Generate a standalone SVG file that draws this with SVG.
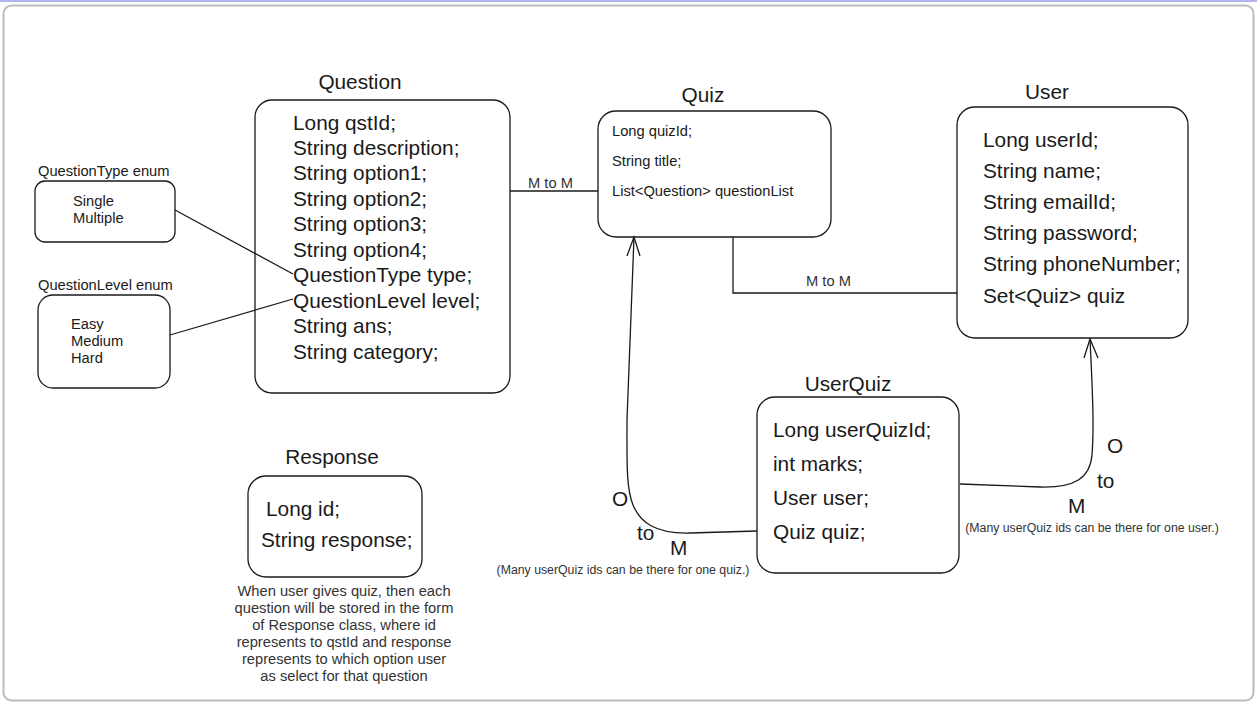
<svg xmlns="http://www.w3.org/2000/svg" width="1257" height="705" viewBox="0 0 1257 705">
<defs>
<style>
.box{fill:#fff;stroke:#1a1a1a;stroke-width:1.3}
.big{font-family:"Liberation Sans",Arial,sans-serif;font-size:20.8px;fill:#1a1a1a}
.mid{font-family:"Liberation Sans",Arial,sans-serif;font-size:14.7px;fill:#1a1a1a}
.lbl{font-family:"Liberation Sans",Arial,sans-serif;font-size:14.7px;fill:#333}
.sm{font-family:"Liberation Sans",Arial,sans-serif;font-size:12.3px;fill:#333}
.ttl{font-family:"Liberation Sans",Arial,sans-serif;font-size:20.8px;fill:#1a1a1a;text-anchor:middle}
.ln{fill:none;stroke:#1a1a1a;stroke-width:1.3}
</style>
</defs>
<rect x="0" y="0" width="1257" height="705" fill="#fff"/>
<line x1="0" y1="1" x2="1257" y2="1" stroke="#b4b4f0" stroke-width="2"/>
<rect x="3.5" y="5.5" width="1250" height="695" rx="8" fill="none" stroke="#bbb" stroke-width="2"/>

<g id="questionType">
<text class="mid" x="38" y="176">QuestionType enum</text>
<rect class="box" x="35" y="181" width="140" height="61" rx="10"/>
<text class="mid" x="73" y="206">Single</text>
<text class="mid" x="73" y="223">Multiple</text>
</g>

<g id="questionLevel">
<text class="mid" x="38" y="290">QuestionLevel enum</text>
<rect class="box" x="38" y="295" width="132" height="93" rx="15"/>
<text class="mid" x="71" y="329">Easy</text>
<text class="mid" x="71" y="346">Medium</text>
<text class="mid" x="71" y="363">Hard</text>
</g>

<g id="question">
<text class="ttl" x="360" y="89">Question</text>
<rect class="box" x="255" y="100" width="255" height="293" rx="17"/>
<text class="big" x="293" y="130">Long qstId;</text>
<text class="big" x="293" y="155">String description;</text>
<text class="big" x="293" y="180">String option1;</text>
<text class="big" x="293" y="206">String option2;</text>
<text class="big" x="293" y="231">String option3;</text>
<text class="big" x="293" y="257">String option4;</text>
<text class="big" x="293" y="282">QuestionType type;</text>
<text class="big" x="293" y="308">QuestionLevel level;</text>
<text class="big" x="293" y="333">String ans;</text>
<text class="big" x="293" y="359">String category;</text>
</g>

<g id="quiz">
<text class="ttl" x="703" y="102">Quiz</text>
<rect class="box" x="598" y="111" width="233" height="126" rx="18"/>
<text class="mid" x="612" y="136">Long quizId;</text>
<text class="mid" x="612" y="166">String title;</text>
<text class="mid" x="612" y="196">List&lt;Question&gt; questionList</text>
</g>

<g id="user">
<text class="ttl" x="1047" y="99">User</text>
<rect class="box" x="957" y="107" width="231" height="231" rx="18"/>
<text class="big" x="983" y="147">Long userId;</text>
<text class="big" x="983" y="178">String name;</text>
<text class="big" x="983" y="209">String emailId;</text>
<text class="big" x="983" y="240">String password;</text>
<text class="big" x="983" y="271">String phoneNumber;</text>
<text class="big" x="983" y="303">Set&lt;Quiz&gt; quiz</text>
</g>

<g id="userQuiz">
<text class="ttl" x="848" y="391">UserQuiz</text>
<rect class="box" x="757" y="397" width="202" height="176" rx="18"/>
<text class="big" x="773" y="437">Long userQuizId;</text>
<text class="big" x="773" y="471">int marks;</text>
<text class="big" x="773" y="505">User user;</text>
<text class="big" x="773" y="539">Quiz quiz;</text>
</g>

<g id="response">
<text class="ttl" x="332" y="464">Response</text>
<rect class="box" x="248" y="476" width="174" height="101" rx="18"/>
<text class="big" x="266" y="516">Long id;</text>
<text class="big" x="261" y="547">String response;</text>
<g class="lbl" text-anchor="middle">
<text x="344" y="596">When user gives quiz, then each</text>
<text x="344" y="613">question will be stored in the form</text>
<text x="344" y="630">of Response class, where id</text>
<text x="344" y="647">represents to qstId and response</text>
<text x="344" y="664">represents to which option user</text>
<text x="344" y="681">as select for that question</text>
</g>
</g>

<g id="connectors">
<line class="ln" x1="175" y1="210" x2="293" y2="274"/>
<line class="ln" x1="170" y1="335" x2="293" y2="299"/>
<line class="ln" x1="510" y1="191" x2="598" y2="191"/>
<text class="lbl" x="528" y="188">M to M</text>
<polyline class="ln" points="733,237 733,293 957,293"/>
<text class="lbl" x="806" y="286">M to M</text>
<path class="ln" d="M757,531 L690,533 C655,534 640,522 633,505 C626,488 627,460 627,420 L634,237"/>
<polyline class="ln" points="627,256 634,237 640,256"/>
<text class="big" x="612" y="506">O</text>
<text class="big" x="637" y="540">to</text>
<text class="big" x="670" y="555">M</text>
<text class="sm" x="623" y="574" text-anchor="middle">(Many userQuiz ids can be there for one quiz.)</text>
<path class="ln" d="M960,484 L1040,487 C1075,488 1090,478 1092,455 C1094,430 1093,400 1090,339"/>
<polyline class="ln" points="1084,358 1090,339 1098,358"/>
<text class="big" x="1107" y="453">O</text>
<text class="big" x="1097" y="488">to</text>
<text class="big" x="1068" y="513">M</text>
<text class="sm" x="1092" y="532" text-anchor="middle">(Many userQuiz ids can be there for one user.)</text>
</g>
</svg>
